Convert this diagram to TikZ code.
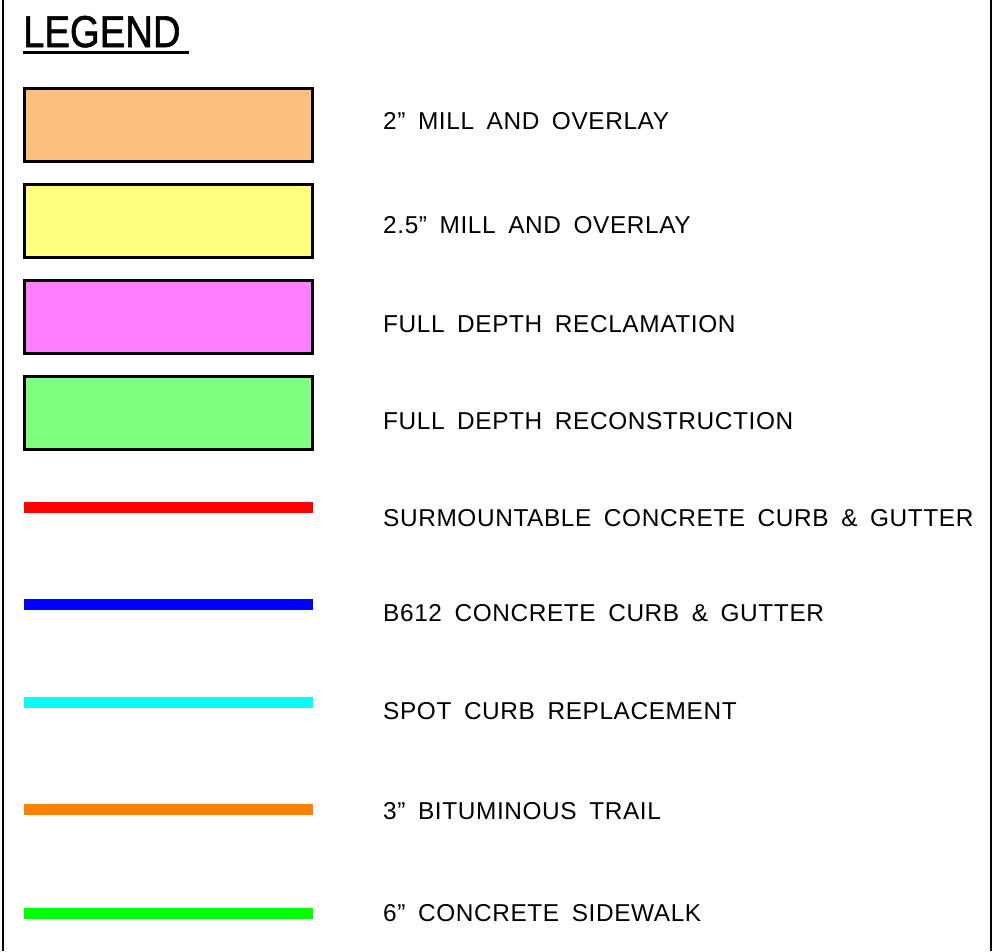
\documentclass[tikz,border=0pt]{standalone}
\usepackage{fontspec}
\setmainfont{Liberation Sans}[WordSpace=1.7,LetterSpace=2.5]
\newfontfamily\titlefont{Liberation Sans}[FakeBold=1.5]
\usetikzlibrary{positioning}

\definecolor{millTwo}{RGB}{253,190,128}
\definecolor{millTwoHalf}{RGB}{255,255,128}
\definecolor{reclaim}{RGB}{255,128,255}
\definecolor{reconstruct}{RGB}{128,255,128}
\definecolor{curbRed}{RGB}{255,0,0}
\definecolor{curbBlue}{RGB}{0,0,255}
\definecolor{spotCyan}{RGB}{0,255,255}
\definecolor{trailOrange}{RGB}{255,128,0}
\definecolor{walkGreen}{RGB}{0,255,0}

\begin{document}
\begin{tikzpicture}[x=1pt,y=-1pt,
  swatch/.style={draw=black,line width=3pt,minimum width=288pt,minimum height=73pt,inner sep=0pt,outer sep=0pt},
  curbline/.style={line width=11pt},
  legendtext/.style={anchor=base west,inner sep=0pt,font=\fontsize{24.4}{28}\selectfont}]
  \useasboundingbox (0,0) rectangle (993,951);

  % Sheet border (left and right edges only).
  \draw[line width=2pt] (3,0) -- (3,951);
  \draw[line width=2pt] (990.5,0) -- (990.5,951);

  % Title, underlined.
  \node[anchor=base west,inner sep=0pt,xscale=0.86,font=\titlefont\fontsize{44.5}{50}\selectfont] (title) at (23,47) {LEGEND};
  \draw[line width=3pt] (23,52.5) -- (189,52.5);

  % Filled pavement swatches.
  \node[swatch,fill=millTwo] (millA) at (168.5,125) {};
  \node[legendtext] (millAtext) at (383,129) {2” MILL AND OVERLAY};

  \node[swatch,fill=millTwoHalf] (millB) at (168.5,221) {};
  \node[legendtext] (millBtext) at (383,233) {2.5” MILL AND OVERLAY};

  \node[swatch,fill=reclaim] (fdr) at (168.5,317) {};
  \node[legendtext] (fdrtext) at (383,332) {FULL DEPTH RECLAMATION};

  \node[swatch,fill=reconstruct] (fdrc) at (168.5,413) {};
  \node[legendtext] (fdrctext) at (383,429) {FULL DEPTH RECONSTRUCTION};

  % Line work symbols.
  \coordinate (surmA) at (24,507.5); \coordinate (surmB) at (313,507.5);
  \draw[curbline,curbRed] (surmA) -- (surmB);
  \node[legendtext] (surmtext) at (383,526.5) {SURMOUNTABLE CONCRETE CURB \& GUTTER};

  \coordinate (bsixA) at (24,604.5); \coordinate (bsixB) at (313,604.5);
  \draw[curbline,curbBlue] (bsixA) -- (bsixB);
  \node[legendtext] (bsixtext) at (383,621) {B612 CONCRETE CURB \& GUTTER};

  \coordinate (spotA) at (24,702); \coordinate (spotB) at (313,702);
  \draw[curbline,spotCyan] (spotA) -- (spotB);
  \node[legendtext] (spottext) at (383,719) {SPOT CURB REPLACEMENT};

  \coordinate (trailA) at (24,809); \coordinate (trailB) at (313,809);
  \draw[curbline,trailOrange] (trailA) -- (trailB);
  \node[legendtext] (trailtext) at (383,819) {3” BITUMINOUS TRAIL};

  \coordinate (walkA) at (24,913.5); \coordinate (walkB) at (313,913.5);
  \draw[curbline,walkGreen] (walkA) -- (walkB);
  \node[legendtext] (walktext) at (383,921) {6” CONCRETE SIDEWALK};
\end{tikzpicture}
\end{document}
